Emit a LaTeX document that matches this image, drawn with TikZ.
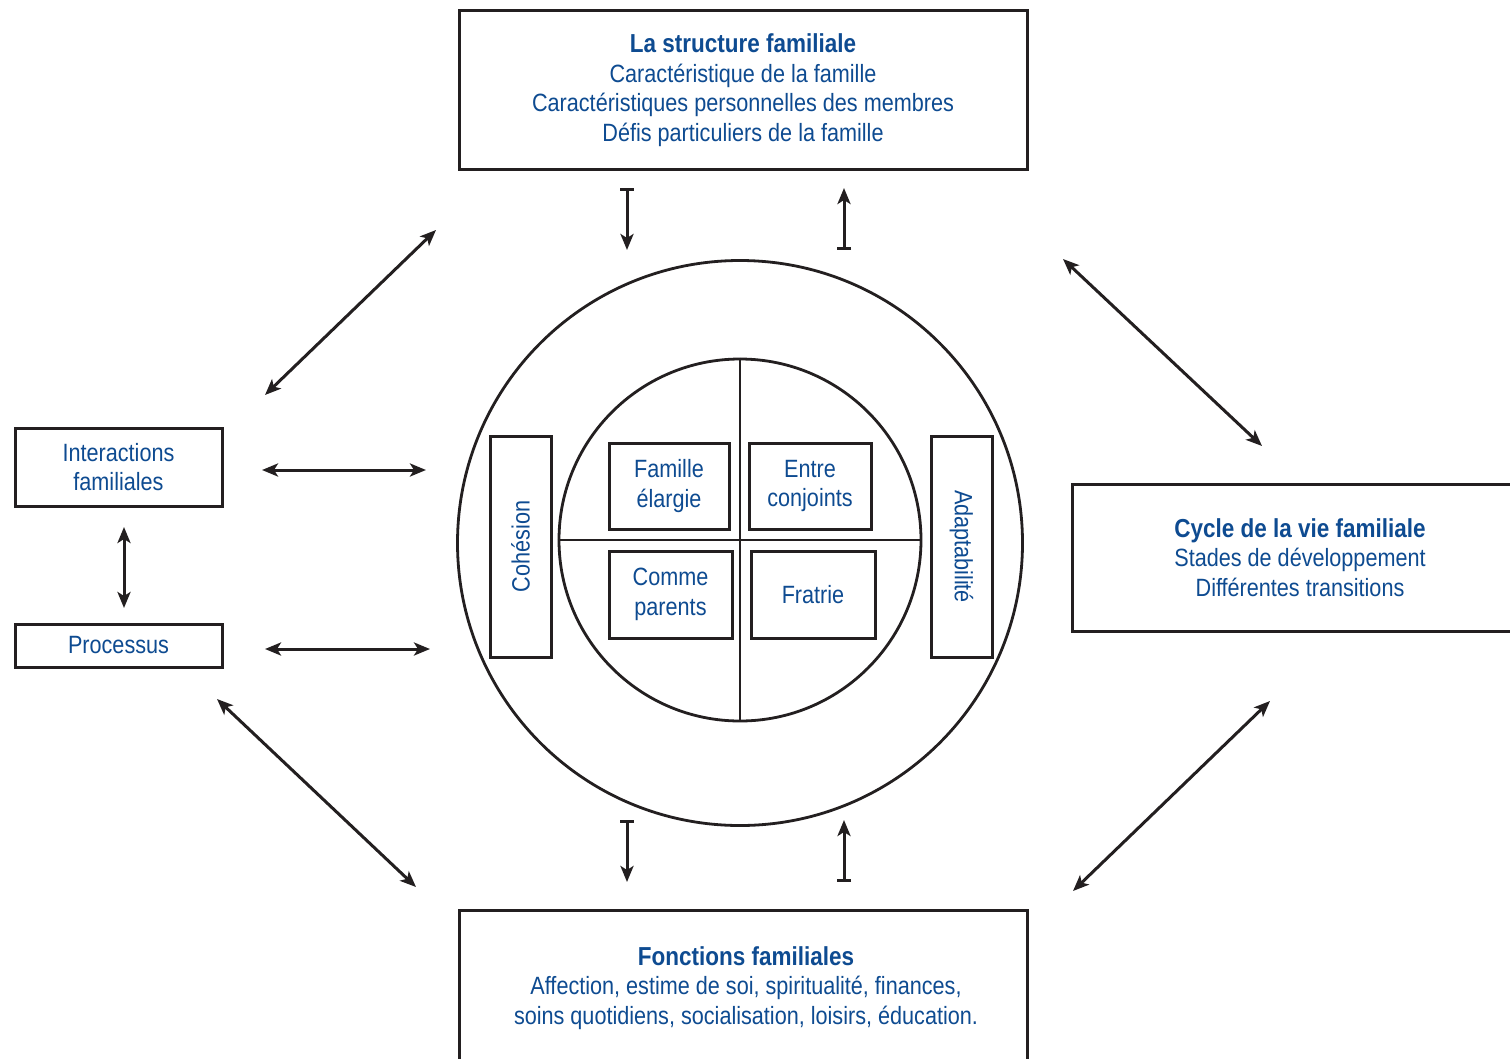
\documentclass[tikz,border=0pt]{standalone}
\usepackage{fontspec}
\setmainfont[FakeStretch=0.865]{Liberation Sans}
\usetikzlibrary{arrows.meta}
\definecolor{txtblue}{RGB}{14,75,145}
\definecolor{ink}{RGB}{35,31,32}
\begin{document}
\begin{tikzpicture}[x=1pt,y=-1pt,
  lbl/.style={text=txtblue,align=center,inner sep=0pt,font=\fontsize{25}{29.5}\selectfont},
  box/.style={lbl,draw=ink,line width=3pt},
  conn/.style={draw=ink,line width=3pt,{Stealth[length=16pt,width=13pt,inset=4pt]}-{Stealth[length=16pt,width=13pt,inset=4pt]}},
  barconn/.style={draw=ink,line width=3pt,{Bar[width=14pt]}-{Stealth[length=16pt,width=13pt,inset=4pt]}}
]
\useasboundingbox (0,0) rectangle (1510,1058);
\clip (0,0) rectangle (1510,1058);
\fill[white] (0,0) rectangle (1510,1058);

% main boxes
\node[box,minimum width=568pt,minimum height=159pt] (struct) at (743,90)
  {{\fontsize{26}{29.5}\selectfont\bfseries La structure familiale}\\Caractéristique de la famille\\Caractéristiques personnelles des membres\\Défis particuliers de la famille};
\node[box,minimum width=456pt,minimum height=147pt] (cycle) at (1300,557.5)
  {{\fontsize{26}{29.5}\selectfont\bfseries Cycle de la vie familiale}\\Stades de développement\\Différentes transitions};
\node[box,minimum width=568pt,minimum height=170pt] (fonct) at (743,995) {};
\node[lbl] (fonctxt) at (746,988)
  {{\fontsize{26}{29.5}\selectfont\bfseries Fonctions familiales}\\Affection, estime de soi, spiritualité, finances,\\soins quotidiens, socialisation, loisirs, éducation.};
\node[box,minimum width=207pt,minimum height=78pt] (inter) at (118.5,467) {Interactions\\familiales};
\node[box,minimum width=207pt,minimum height=43pt] (proc) at (118.5,645.5) {Processus};

% circles
\node[draw=ink,line width=2.8pt,circle,minimum size=565pt,inner sep=0pt] (outer) at (740,543) {};
\node[draw=ink,line width=2.8pt,circle,minimum size=362pt,inner sep=0pt] (inner) at (740,540) {};
\draw[ink,line width=2.8pt] (inner.north) -- (inner.south);
\draw[ink,line width=2.8pt] (inner.west) -- (inner.east);

% inner boxes
\node[box,minimum width=61pt,minimum height=221pt] (cohes) at (520.5,546.5) {};
\node[lbl,rotate=90] (cohestxt) at (cohes.center) {Cohésion};
\node[box,minimum width=61pt,minimum height=221pt] (adapt) at (961.5,546.5) {};
\node[lbl,rotate=-90] (adapttxt) at (adapt.center) {Adaptabilité};
\node[box,minimum width=120pt,minimum height=86pt] (elarg) at (669,486) {Famille\\élargie};
\node[box,minimum width=122pt,minimum height=86pt] (conj) at (810,486) {Entre\\conjoints};
\node[box,minimum width=123pt,minimum height=87pt] (par) at (670.5,594.5) {Comme\\parents};
\node[box,minimum width=124pt,minimum height=87pt] (frat) at (813,594.5) {Fratrie};

% connector end points
\coordinate (tdA) at (627,188); \coordinate (tdB) at (627,250);
\coordinate (tuA) at (844,250); \coordinate (tuB) at (844,188);
\coordinate (bdA) at (627,820); \coordinate (bdB) at (627,882);
\coordinate (buA) at (844,882); \coordinate (buB) at (844,820);
\coordinate (ulA) at (265,395); \coordinate (ulB) at (436,230);
\coordinate (urA) at (1063,259); \coordinate (urB) at (1262,446);
\coordinate (llA) at (217,699); \coordinate (llB) at (416,887);
\coordinate (lrA) at (1270,701); \coordinate (lrB) at (1073,891);
\coordinate (h1A) at (262,470); \coordinate (h1B) at (426,470);
\coordinate (h2A) at (265,649); \coordinate (h2B) at (430,649);
\coordinate (vA) at (124,527); \coordinate (vB) at (124,608);

\draw[barconn] (tdA) -- (tdB);
\draw[barconn] (tuA) -- (tuB);
\draw[barconn] (bdA) -- (bdB);
\draw[barconn] (buA) -- (buB);
\draw[conn] (ulA) -- (ulB);
\draw[conn] (urA) -- (urB);
\draw[conn] (llA) -- (llB);
\draw[conn] (lrA) -- (lrB);
\draw[conn] (h1A) -- (h1B);
\draw[conn] (h2A) -- (h2B);
\draw[conn] (vA) -- (vB);
\end{tikzpicture}
\end{document}
